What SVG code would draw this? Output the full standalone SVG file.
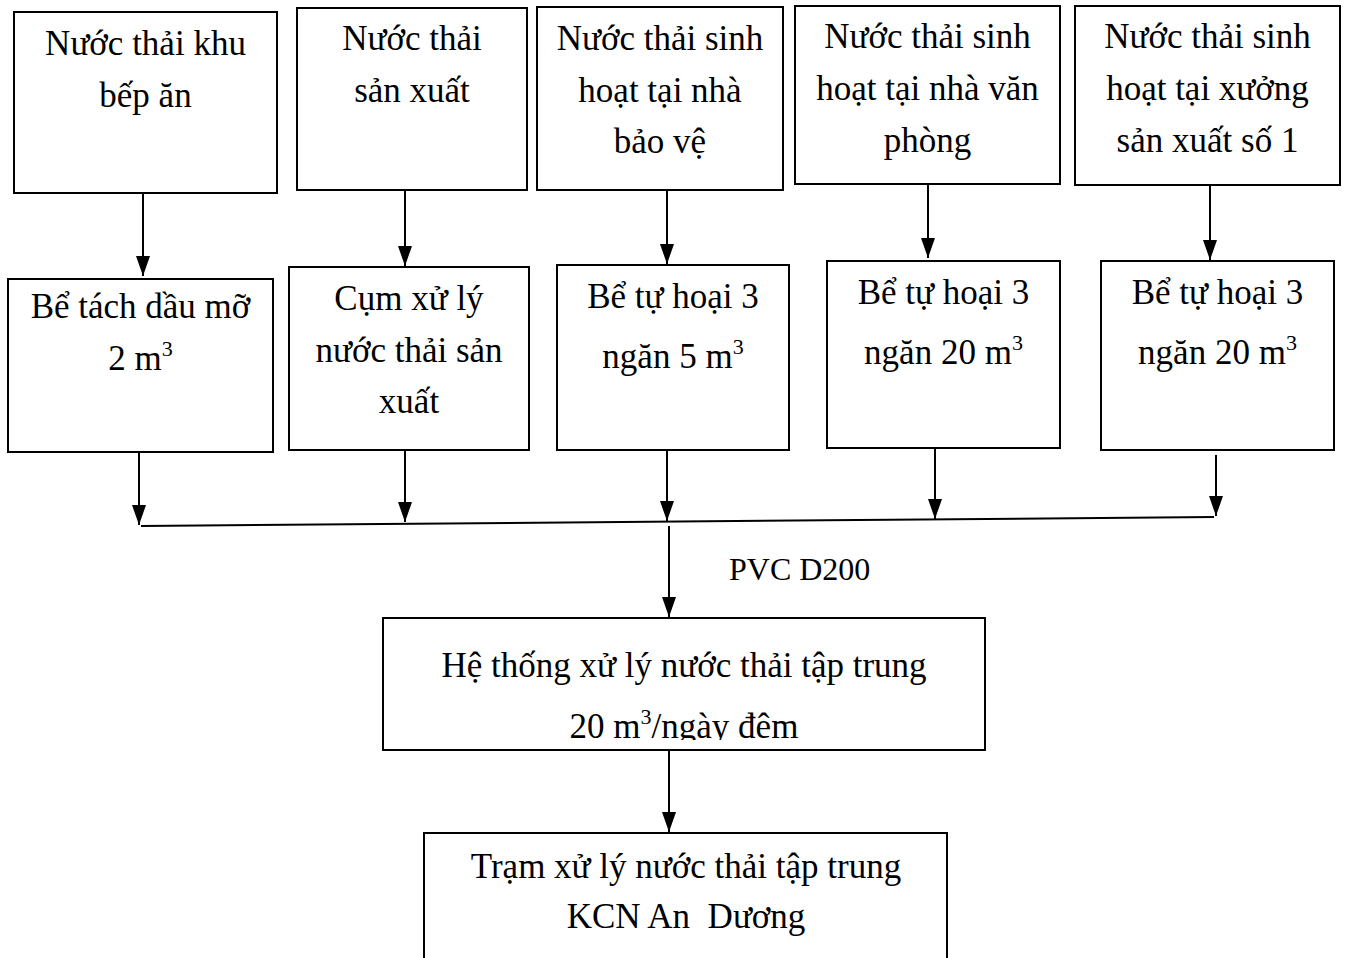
<svg xmlns="http://www.w3.org/2000/svg" width="1345" height="958" viewBox="0 0 1345 958">
<style>
.box{fill:#fff;stroke:#000;stroke-width:2}
.t{font-family:"Liberation Serif","DejaVu Serif",serif;font-size:35px;fill:#000;text-anchor:middle}
.lbl{font-family:"Liberation Serif","DejaVu Serif",serif;font-size:32px;fill:#000}
.c{stroke:#000;stroke-width:2;fill:none}
.sup{font-size:22px}
</style>
<defs>
<marker id="ah" viewBox="0 0 20 14" refX="20" refY="7" markerWidth="20" markerHeight="14" markerUnits="userSpaceOnUse" orient="auto">
<path d="M0,0 L20,7 L0,14 z" fill="#000"/>
</marker>
<clipPath id="clipHT"><rect x="383" y="618" width="602" height="122"/></clipPath>
</defs>
<rect width="1345" height="958" fill="#fff"/>

<g id="connectors">
<line class="c" x1="143" y1="193" x2="143" y2="276" marker-end="url(#ah)"/>
<line class="c" x1="405" y1="190" x2="405" y2="266" marker-end="url(#ah)"/>
<line class="c" x1="667" y1="190" x2="667" y2="264" marker-end="url(#ah)"/>
<line class="c" x1="928" y1="184" x2="928" y2="258" marker-end="url(#ah)"/>
<line class="c" x1="1210" y1="185" x2="1210" y2="260" marker-end="url(#ah)"/>
<line class="c" x1="139" y1="452" x2="139" y2="525" marker-end="url(#ah)"/>
<line class="c" x1="405" y1="450" x2="405" y2="522" marker-end="url(#ah)"/>
<line class="c" x1="667" y1="450" x2="667" y2="521" marker-end="url(#ah)"/>
<line class="c" x1="935" y1="448" x2="935" y2="519" marker-end="url(#ah)"/>
<line class="c" x1="1216" y1="455" x2="1216" y2="516" marker-end="url(#ah)"/>
<line class="c" x1="141" y1="526" x2="1214" y2="517"/>
<line class="c" x1="669" y1="526" x2="669" y2="617" marker-end="url(#ah)"/>
<line class="c" x1="669" y1="750" x2="669" y2="832" marker-end="url(#ah)"/>
<text class="lbl" x="729" y="580">PVC D200</text>
</g>

<g id="n1"><rect class="box" x="14" y="12" width="263" height="181"/>
<text class="t" x="145.5" y="55">Nước thải khu</text><text class="t" x="145.5" y="107">bếp ăn</text></g>
<g id="n2"><rect class="box" x="297" y="8" width="230" height="182"/>
<text class="t" x="412" y="50">Nước thải</text><text class="t" x="412" y="102">sản xuất</text></g>
<g id="n3"><rect class="box" x="537" y="7" width="246" height="183"/>
<text class="t" x="660" y="50">Nước thải sinh</text><text class="t" x="660" y="102">hoạt tại nhà</text><text class="t" x="660" y="153">bảo vệ</text></g>
<g id="n4"><rect class="box" x="795" y="6" width="265" height="178"/>
<text class="t" x="927.5" y="48">Nước thải sinh</text><text class="t" x="927.5" y="100">hoạt tại nhà văn</text><text class="t" x="927.5" y="152">phòng</text></g>
<g id="n5"><rect class="box" x="1075" y="6" width="265" height="179"/>
<text class="t" x="1207.5" y="48">Nước thải sinh</text><text class="t" x="1207.5" y="100">hoạt tại xưởng</text><text class="t" x="1207.5" y="152">sản xuất số 1</text></g>

<g id="m1"><rect class="box" x="8" y="279" width="265" height="173"/>
<text class="t" x="140.5" y="318">Bể tách dầu mỡ</text><text class="t" x="140.5" y="370">2 m<tspan class="sup" dy="-14">3</tspan></text></g>
<g id="m2"><rect class="box" x="289" y="267" width="240" height="183"/>
<text class="t" x="409" y="310">Cụm xử lý</text><text class="t" x="409" y="362">nước thải sản</text><text class="t" x="409" y="413">xuất</text></g>
<g id="m3"><rect class="box" x="557" y="265" width="232" height="185"/>
<text class="t" x="673" y="308">Bể tự hoại 3</text><text class="t" x="673" y="368">ngăn 5 m<tspan class="sup" dy="-14">3</tspan></text></g>
<g id="m4"><rect class="box" x="827" y="261" width="233" height="187"/>
<text class="t" x="943.5" y="304">Bể tự hoại 3</text><text class="t" x="943.5" y="364">ngăn 20 m<tspan class="sup" dy="-14">3</tspan></text></g>
<g id="m5"><rect class="box" x="1101" y="261" width="233" height="189"/>
<text class="t" x="1217.5" y="304">Bể tự hoại 3</text><text class="t" x="1217.5" y="364">ngăn 20 m<tspan class="sup" dy="-14">3</tspan></text></g>

<g id="ht"><rect class="box" x="383" y="618" width="602" height="132"/>
<text class="t" x="684" y="677">Hệ thống xử lý nước thải tập trung</text>
<text class="t" x="684" y="738" clip-path="url(#clipHT)">20 m<tspan class="sup" dy="-14">3</tspan><tspan dy="14">/ngày đêm</tspan></text></g>

<g id="tram"><rect class="box" x="424" y="833" width="523" height="135"/>
<text class="t" x="686" y="878">Trạm xử lý nước thải tập trung</text>
<text class="t" x="686" y="928">KCN An&#160; Dương</text></g>
</svg>
